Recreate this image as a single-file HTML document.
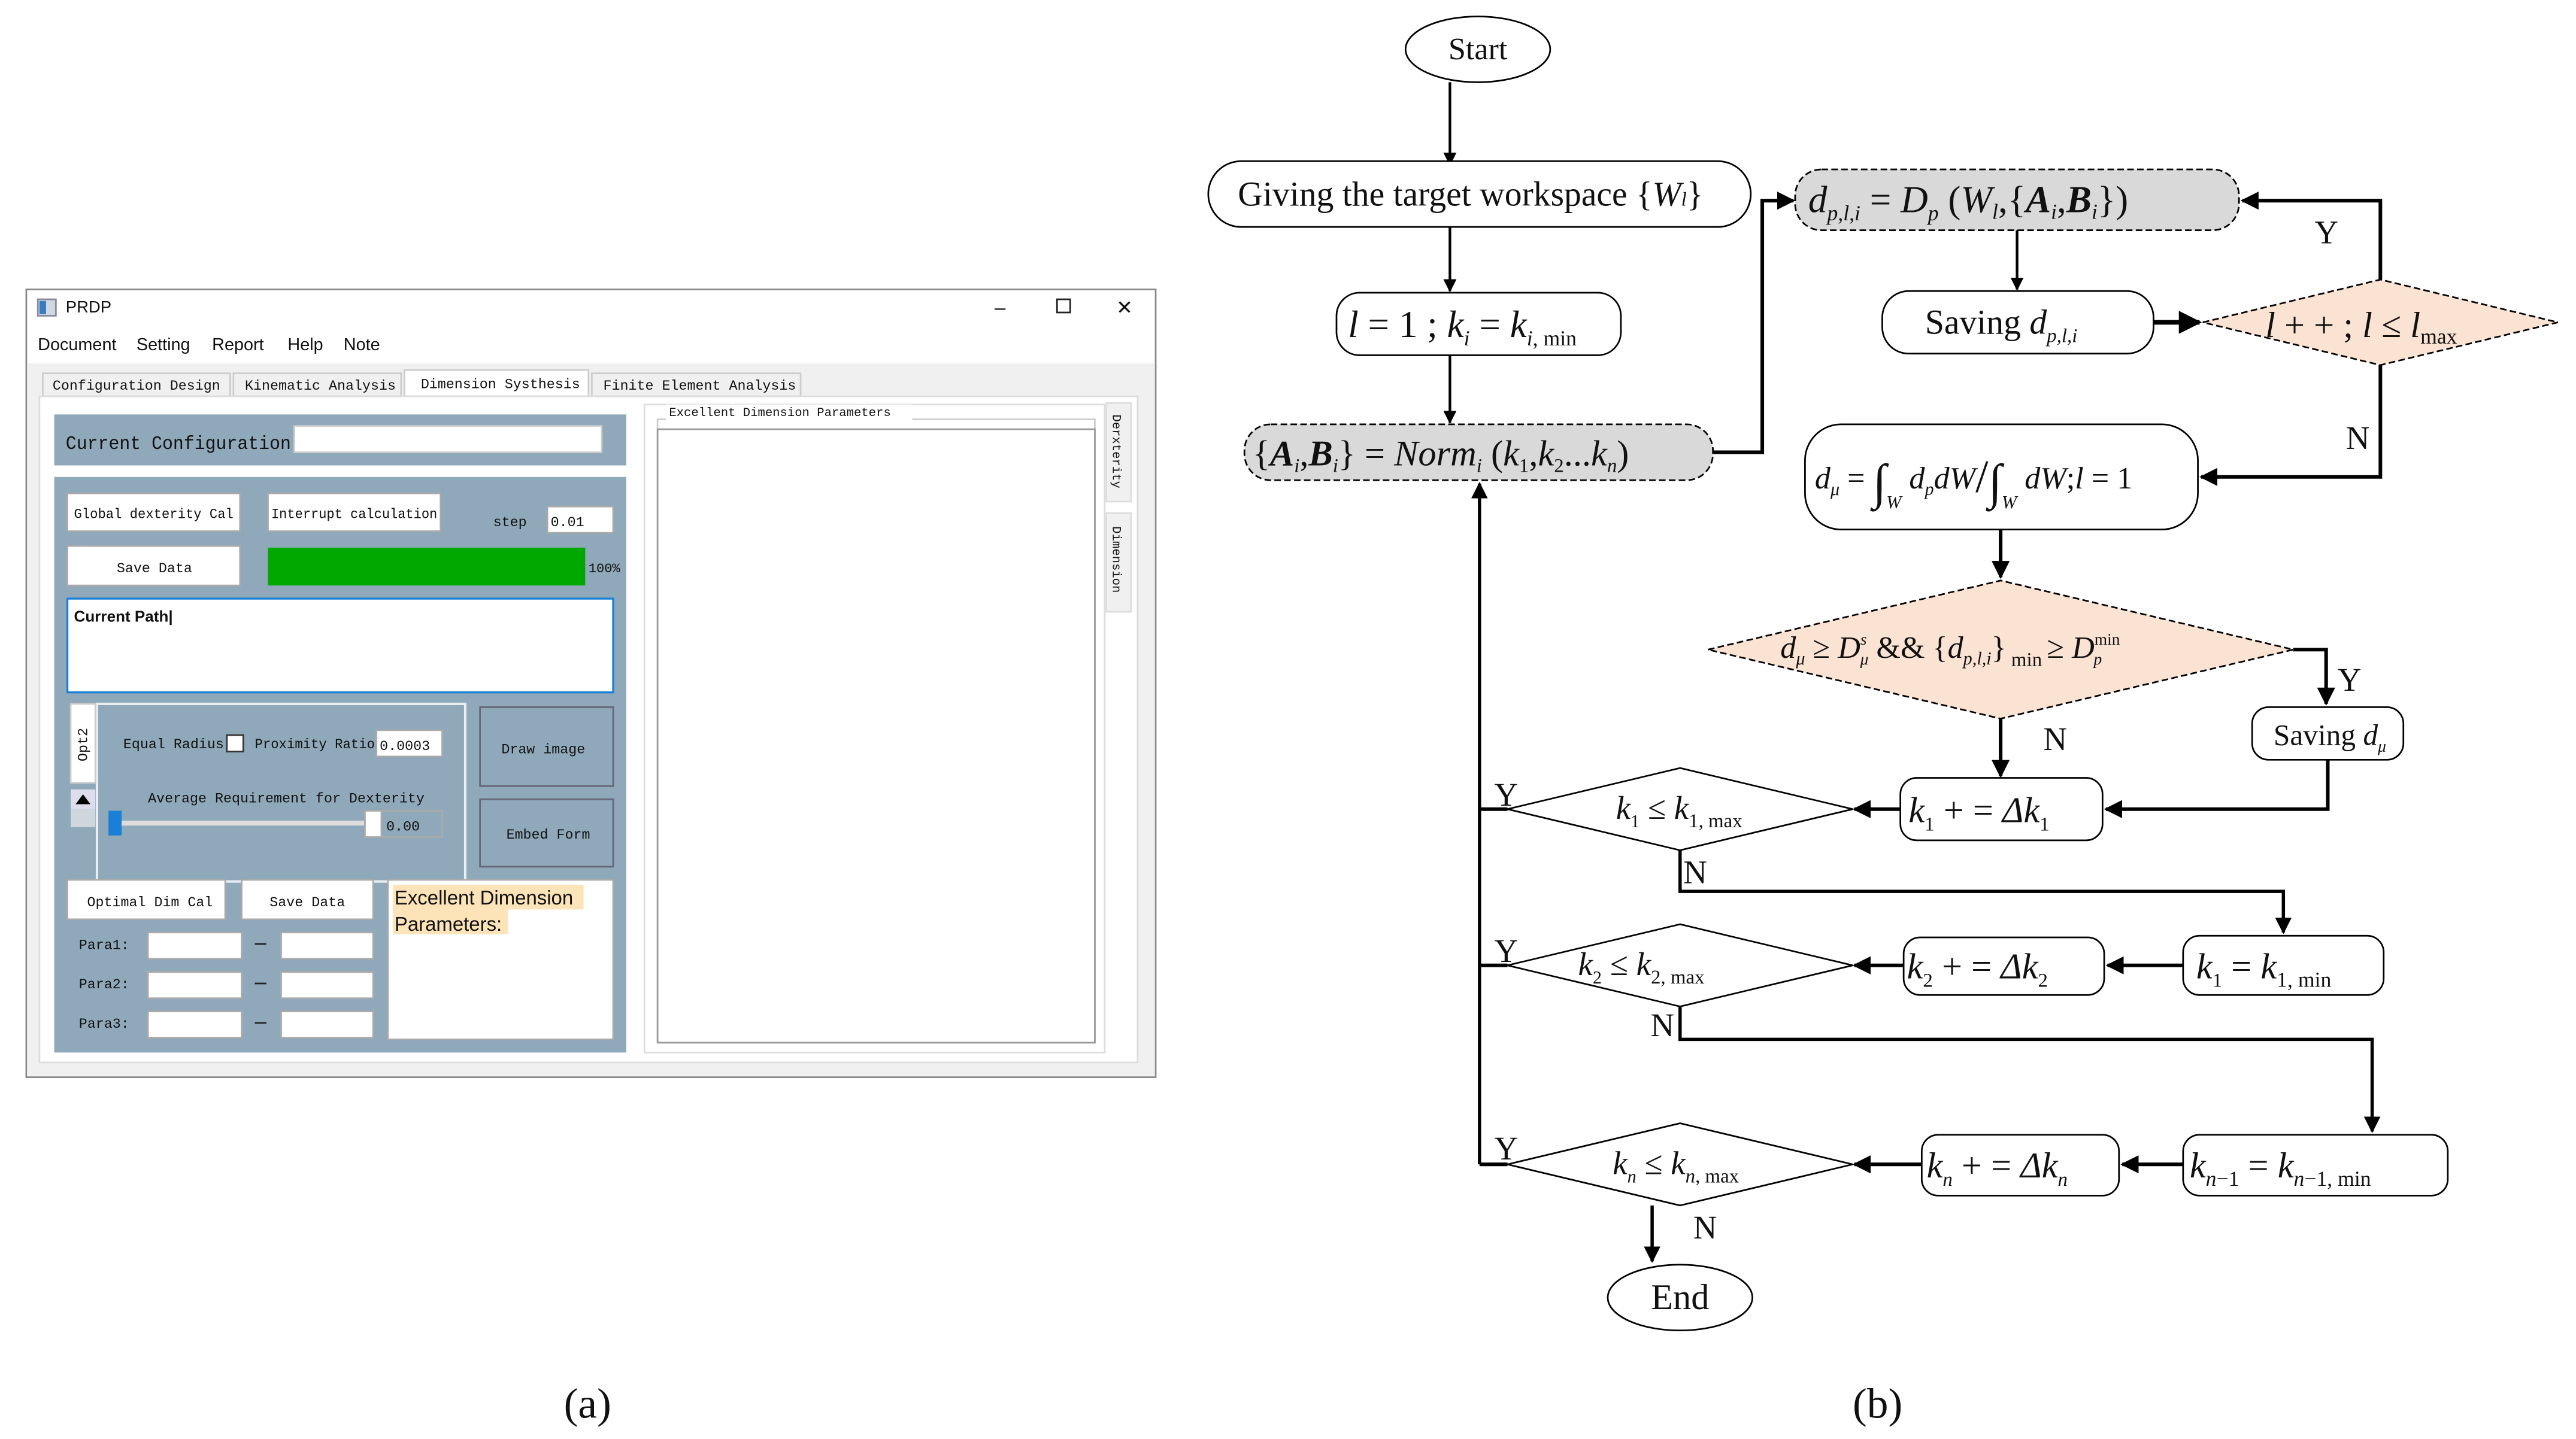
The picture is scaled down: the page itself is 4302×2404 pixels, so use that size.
<!DOCTYPE html>
<html><head><meta charset="utf-8"><style>
html,body{margin:0;padding:0;background:#fff;}
svg{display:block;}
.m{font-family:"Liberation Mono",monospace;font-size:8.5px;fill:#111;}
.s{font-family:"Liberation Sans",sans-serif;fill:#111;}
.t{font-family:"Liberation Serif",serif;fill:#111;}
.i{font-family:"Liberation Serif",serif;font-style:italic;fill:#111;}
</style></head><body>
<svg width="4302" height="2404" viewBox="0 0 1567 875" preserveAspectRatio="none" xmlns="http://www.w3.org/2000/svg">
<defs>
<marker id="a" viewBox="0 0 10 10" refX="9" refY="5" markerWidth="5" markerHeight="5" orient="auto"><path d="M0,0 L10,5 L0,10 z" fill="#000"/></marker>
</defs>
<rect width="1567" height="875" fill="#fff"/>
<!-- ===== Panel (a) ===== -->
<rect x="16" y="176" width="687" height="479" fill="#fff" stroke="#888" stroke-width="1"/>
<rect x="23" y="182" width="11" height="10" fill="#cfd8e0" stroke="#889"/><rect x="24" y="183" width="4" height="8" fill="#3a7bbf"/>
<text x="40" y="190" class="s" font-size="10">PRDP</text>
<text x="605" y="191" class="s" font-size="12">–</text>
<rect x="643" y="182" width="8" height="8" fill="none" stroke="#222"/>
<text x="679" y="191" class="s" font-size="12">✕</text>
<text x="23" y="213" class="s" font-size="10.5">Document</text>
<text x="83" y="213" class="s" font-size="10.5">Setting</text>
<text x="129" y="213" class="s" font-size="10.5">Report</text>
<text x="175" y="213" class="s" font-size="10.5">Help</text>
<text x="209" y="213" class="s" font-size="10.5">Note</text>
<rect x="17" y="221" width="685" height="433" fill="#f0f0f0"/>
<rect x="26" y="227" width="114" height="14" fill="#f0f0f0" stroke="#ccc"/>
<rect x="142" y="227" width="102" height="14" fill="#f0f0f0" stroke="#ccc"/>
<rect x="246" y="225" width="112" height="16" fill="#fff" stroke="#ccc"/>
<rect x="360" y="227" width="127" height="14" fill="#f0f0f0" stroke="#ccc"/>
<text x="32" y="237" class="m">Configuration Design</text>
<text x="149" y="237" class="m">Kinematic Analysis</text>
<text x="256" y="236" class="m">Dimension Systhesis</text>
<text x="367" y="237" class="m">Finite Element Analysis</text>
<rect x="24" y="241" width="668" height="405" fill="#fff" stroke="#ddd"/>
<rect x="33" y="252" width="348" height="31" fill="#8fa8ba"/>
<text x="40" y="273" class="m" style="font-size:11.5px" textLength="137" lengthAdjust="spacingAndGlyphs">Current Configuration</text>
<rect x="179" y="259" width="187" height="16" fill="#fff" stroke="#ccc"/>
<rect x="33" y="290" width="348" height="350" fill="#8fa8ba"/>
<rect x="41" y="300" width="105" height="23" fill="#fff" stroke="#aaa"/>
<text x="45" y="315" class="m" textLength="97" lengthAdjust="spacingAndGlyphs">Global dexterity Cal</text>
<rect x="163" y="300" width="105" height="23" fill="#fff" stroke="#aaa"/>
<text x="165" y="315" class="m" textLength="101" lengthAdjust="spacingAndGlyphs">Interrupt calculation</text>
<text x="300" y="320" class="m">step</text>
<rect x="333" y="308" width="40" height="16" fill="#fff" stroke="#aaa"/>
<text x="335" y="320" class="m">0.01</text>
<rect x="41" y="332" width="105" height="24" fill="#fff" stroke="#aaa"/>
<text x="71" y="348" class="m">Save Data</text>
<rect x="163" y="333" width="193" height="23" fill="#00a800"/>
<text x="358" y="348" class="m" style="font-size:8px">100%</text>
<rect x="41" y="364" width="332" height="57" fill="#fff" stroke="#1a7fd6" stroke-width="1.2"/>
<text x="45" y="378" class="s" font-size="9.5" font-weight="bold">Current Path|</text>
<rect x="59" y="428" width="224" height="108" fill="#8fa8ba" stroke="#e8eef2" stroke-width="1.5"/>
<rect x="43" y="428" width="15" height="48" fill="#fff" stroke="#ccc"/>
<text transform="translate(53,463) rotate(-90)" class="m">Opt2</text>
<rect x="43" y="480" width="15" height="12" fill="#dde"/><path d="M46,489 L50.5,483 L55,489z" fill="#000"/>
<rect x="43" y="492" width="15" height="11" fill="#cfd6dc"/>
<text x="75" y="455" class="m">Equal Radius</text>
<rect x="138" y="447" width="10" height="10" fill="#fff" stroke="#333"/>
<text x="155" y="455" class="m" textLength="73" lengthAdjust="spacingAndGlyphs">Proximity Ratio</text>
<rect x="229" y="444" width="40" height="16" fill="#fff" stroke="#aaa"/>
<text x="231" y="456" class="m">0.0003</text>
<text x="90" y="488" class="m">Average Requirement for Dexterity</text>
<rect x="70" y="499" width="152" height="3" fill="#ddd"/>
<rect x="66" y="493" width="8" height="15" fill="#1a7fd6"/>
<rect x="222" y="493" width="47" height="16" fill="#8fa8ba" stroke="#aaa"/>
<rect x="222" y="493" width="10" height="16" fill="#fff" stroke="#aaa"/>
<text x="235" y="505" class="m">0.00</text>
<rect x="292" y="430" width="81" height="48" fill="#8fa8ba" stroke="#667"/>
<text x="305" y="458" class="m">Draw  image</text>
<rect x="292" y="486" width="81" height="41" fill="#8fa8ba" stroke="#667"/>
<text x="308" y="510" class="m">Embed Form</text>
<rect x="41" y="535" width="96" height="24" fill="#fff" stroke="#aaa"/>
<text x="53" y="551" class="m">Optimal Dim Cal</text>
<rect x="147" y="535" width="80" height="24" fill="#fff" stroke="#aaa"/>
<text x="164" y="551" class="m">Save Data</text>
<rect x="236" y="535" width="137" height="97" fill="#fff" stroke="#aaa"/>
<rect x="239" y="538" width="116" height="15" fill="#fde3b8"/><rect x="239" y="553" width="70" height="15" fill="#fde3b8"/>
<text x="240" y="550" class="s" font-size="12">Excellent Dimension</text>
<text x="240" y="566" class="s" font-size="12">Parameters:</text>
<g class="m">
<text x="48" y="577">Para1:</text><text x="48" y="601">Para2:</text><text x="48" y="625">Para3:</text>
</g>
<g fill="#fff" stroke="#aaa">
<rect x="90" y="567" width="57" height="16"/><rect x="171" y="567" width="56" height="16"/>
<rect x="90" y="591" width="57" height="16"/><rect x="171" y="591" width="56" height="16"/>
<rect x="90" y="615" width="57" height="16"/><rect x="171" y="615" width="56" height="16"/>
</g>
<g stroke="#222"><line x1="155" y1="574" x2="162" y2="574"/><line x1="155" y1="598" x2="162" y2="598"/><line x1="155" y1="622" x2="162" y2="622"/></g>
<rect x="392" y="246" width="280" height="394" fill="#fff" stroke="#ddd"/>
<rect x="400" y="255" width="266" height="379" fill="none" stroke="#ccc"/>
<rect x="405" y="246" width="150" height="10" fill="#fff"/>
<text x="407" y="253" class="m" style="font-size:7.5px">Excellent Dimension Parameters</text>
<rect x="400" y="261" width="266" height="373" fill="#fff" stroke="#999"/>
<rect x="673" y="245" width="15" height="60" fill="#f0f0f0" stroke="#ddd"/>
<text transform="translate(677,252) rotate(90)" class="m" style="font-size:7.5px">Derxterity</text>
<rect x="673" y="312" width="15" height="60" fill="#f0f0f0" stroke="#ddd"/>
<text transform="translate(677,320) rotate(90)" class="m" style="font-size:7.5px">Dimension</text>
<text x="343" y="862" class="t" font-size="26">(a)</text>

<!-- ===== Panel (b) flowchart ===== -->
<g stroke="#000" stroke-width="1.6" fill="none">
<path d="M882,50 V100" marker-end="url(#a)"/>
<path d="M882,138 V177" marker-end="url(#a)"/>
<path d="M882,216 V257" marker-end="url(#a)"/>
<path d="M1042,275 H1072 V122 H1091" stroke-width="2.2" marker-end="url(#a)"/>
<path d="M1227,140 V176" marker-end="url(#a)"/>
<path d="M1310,196 H1338" stroke-width="2.8" marker-end="url(#a)"/>
<path d="M1448,170 V122 H1364" stroke-width="2.2" marker-end="url(#a)"/>
<path d="M1448,222 V290 H1339" stroke-width="2.2" marker-end="url(#a)"/>
<path d="M1217,322 V351" stroke-width="2.2" marker-end="url(#a)"/>
<path d="M1395,395 H1415 V428" stroke-width="2.2" marker-end="url(#a)"/>
<path d="M1416,462 V492 H1281" stroke-width="2.2" marker-end="url(#a)"/>
<path d="M1217,437 V472" stroke-width="2.2" marker-end="url(#a)"/>
<path d="M1156,492 H1128" stroke-width="2.2" marker-end="url(#a)"/>
<path d="M917,492 H900 M917,587 H900 M917,708 H900" stroke-width="2.2"/>
<path d="M900,708 V294" stroke-width="2" marker-end="url(#a)"/>
<path d="M1022,517 V542 H1389 V567" stroke-width="2" marker-end="url(#a)"/>
<path d="M1328,587 H1282" stroke-width="2.2" marker-end="url(#a)"/>
<path d="M1158,587 H1128" stroke-width="2.2" marker-end="url(#a)"/>
<path d="M1022,612 V632 H1443 V688" stroke-width="2" marker-end="url(#a)"/>
<path d="M1328,708 H1291" stroke-width="2.2" marker-end="url(#a)"/>
<path d="M1169,708 H1128" stroke-width="2.2" marker-end="url(#a)"/>
<path d="M1005,733 V767" stroke-width="2" marker-end="url(#a)"/>
</g>
<g stroke="#000" stroke-width="1" fill="#fff">
<ellipse cx="899" cy="30" rx="44" ry="20"/>
<rect x="735" y="98" width="330" height="40" rx="20"/>
<rect x="813" y="178" width="173" height="38" rx="14"/>
<rect x="757" y="258" width="285" height="34" rx="16" fill="#d9d9d9" stroke-dasharray="4,2"/>
<rect x="1092" y="103" width="270" height="37" rx="16" fill="#d9d9d9" stroke-dasharray="4,2"/>
<rect x="1145" y="177" width="165" height="38" rx="16"/>
<path d="M1340,196 L1448,170 L1556,196 L1448,222 Z" fill="#fbe3d3" stroke-dasharray="4,2"/>
<rect x="1098" y="258" width="239" height="64" rx="22"/>
<path d="M1039,395 L1217,353 L1395,395 L1217,437 Z" fill="#fbe3d3" stroke-dasharray="4,2"/>
<rect x="1370" y="430" width="92" height="32" rx="10"/>
<rect x="1156" y="473" width="123" height="38" rx="10"/>
<path d="M917,492 L1022,467 L1127,492 L1022,517 Z"/>
<rect x="1328" y="569" width="122" height="36" rx="10"/>
<rect x="1158" y="570" width="122" height="35" rx="10"/>
<path d="M917,587 L1022,562 L1127,587 L1022,612 Z"/>
<rect x="1328" y="690" width="161" height="37" rx="10"/>
<rect x="1169" y="690" width="120" height="37" rx="10"/>
<path d="M917,708 L1022,683 L1127,708 L1022,733 Z"/>
<ellipse cx="1022" cy="789" rx="44" ry="20"/>
</g>
<g class="t">
<text x="899" y="36" font-size="19" text-anchor="middle">Start</text>
<text x="1022" y="796" font-size="22" text-anchor="middle">End</text>
<text x="753" y="125" font-size="21">Giving the target workspace {<tspan class="i">W</tspan><tspan class="i" font-size="12">l</tspan>}</text>
<text x="820" y="205" font-size="23"><tspan class="i">l</tspan> = 1 ; <tspan class="i">k</tspan><tspan class="i" font-size="13" dy="5">i</tspan><tspan dy="-5"> = </tspan><tspan class="i">k</tspan><tspan font-size="13" dy="5"><tspan class="i">i</tspan>, min</tspan></text>
<text x="762" y="283" font-size="22">{<tspan font-weight="bold" class="i">A</tspan><tspan class="i" font-size="12" dy="4">i</tspan><tspan dy="-4">,</tspan><tspan font-weight="bold" class="i">B</tspan><tspan class="i" font-size="12" dy="4">i</tspan><tspan dy="-4">} = </tspan><tspan class="i">Norm</tspan><tspan class="i" font-size="12" dy="4">i</tspan><tspan dy="-4"> (</tspan><tspan class="i">k</tspan><tspan font-size="12" dy="4">1</tspan><tspan dy="-4">,</tspan><tspan class="i">k</tspan><tspan font-size="12" dy="4">2</tspan><tspan dy="-4">...</tspan><tspan class="i">k</tspan><tspan class="i" font-size="12" dy="4">n</tspan><tspan dy="-4">)</tspan></text>
<text x="1100" y="129" font-size="23"><tspan class="i">d</tspan><tspan class="i" font-size="13" dy="5">p,l,i</tspan><tspan dy="-5"> = </tspan><tspan class="i">D</tspan><tspan class="i" font-size="13" dy="5">p</tspan><tspan dy="-5"> (</tspan><tspan class="i">W</tspan><tspan class="i" font-size="13" dy="4">l</tspan><tspan dy="-4">,{</tspan><tspan class="i" font-weight="bold">A</tspan><tspan class="i" font-size="13" dy="4">i</tspan><tspan dy="-4">,</tspan><tspan class="i" font-weight="bold">B</tspan><tspan class="i" font-size="13" dy="4">i</tspan><tspan dy="-4">})</tspan></text>
<text x="1171" y="203" font-size="21">Saving <tspan class="i">d</tspan><tspan class="i" font-size="12" dy="5">p,l,i</tspan></text>
<text x="1378" y="205" font-size="22"><tspan class="i">l</tspan> + + ; <tspan class="i">l</tspan> ≤ <tspan class="i">l</tspan><tspan font-size="13" dy="4">max</tspan></text>
<text x="1104" y="297" font-size="19"><tspan class="i">d</tspan><tspan class="i" font-size="11" dy="4">μ</tspan><tspan dy="-4"> = </tspan><tspan font-size="30" dy="6">∫</tspan><tspan class="i" font-size="11" dy="6">W</tspan><tspan class="i" dy="-12"> d</tspan><tspan class="i" font-size="11" dy="4">p</tspan><tspan class="i" dy="-4">dW</tspan><tspan font-size="28" dy="2">/</tspan><tspan font-size="30" dy="4">∫</tspan><tspan class="i" font-size="11" dy="6">W</tspan><tspan class="i" dy="-12"> dW</tspan><tspan>;</tspan><tspan class="i">l</tspan> = 1</text>
<text x="1083" y="400" font-size="19"><tspan class="i">d</tspan><tspan class="i" font-size="11" dy="4">μ</tspan><tspan dy="-4"> ≥ </tspan><tspan class="i">D</tspan><tspan class="i" font-size="10" dy="-8">s</tspan><tspan class="i" font-size="10" dx="-4" dy="12">μ</tspan><tspan dy="-4">  &amp;&amp;  {</tspan><tspan class="i">d</tspan><tspan class="i" font-size="11" dy="4">p,l,i</tspan><tspan dy="-4">}</tspan><tspan font-size="12" dy="5"> min </tspan><tspan dy="-5">≥ </tspan><tspan class="i">D</tspan><tspan font-size="10" dy="-8">min</tspan><tspan class="i" font-size="10" dx="-16" dy="12">p</tspan></text>
<text x="1383" y="453" font-size="18">Saving <tspan class="i">d</tspan><tspan class="i" font-size="10" dy="4">μ</tspan></text>
<text x="1161" y="500" font-size="22"><tspan class="i">k</tspan><tspan font-size="12" dy="5">1</tspan><tspan dy="-5"> + = </tspan><tspan class="i">Δk</tspan><tspan font-size="12" dy="5">1</tspan></text>
<text x="983" y="498" font-size="20"><tspan class="i">k</tspan><tspan font-size="11" dy="5">1</tspan><tspan dy="-5"> ≤ </tspan><tspan class="i">k</tspan><tspan font-size="12" dy="5">1, max</tspan></text>
<text x="1336" y="595" font-size="22"><tspan class="i">k</tspan><tspan font-size="12" dy="5">1</tspan><tspan dy="-5"> = </tspan><tspan class="i">k</tspan><tspan font-size="13" dy="5">1, min</tspan></text>
<text x="1160" y="595" font-size="22"><tspan class="i">k</tspan><tspan font-size="12" dy="5">2</tspan><tspan dy="-5"> + = </tspan><tspan class="i">Δk</tspan><tspan font-size="12" dy="5">2</tspan></text>
<text x="960" y="593" font-size="20"><tspan class="i">k</tspan><tspan font-size="11" dy="5">2</tspan><tspan dy="-5"> ≤ </tspan><tspan class="i">k</tspan><tspan font-size="12" dy="5">2, max</tspan></text>
<text x="1332" y="716" font-size="22"><tspan class="i">k</tspan><tspan class="i" font-size="13" dy="5">n</tspan><tspan font-size="13">−1</tspan><tspan dy="-5"> = </tspan><tspan class="i">k</tspan><tspan font-size="13" dy="5"><tspan class="i">n</tspan>−1, min</tspan></text>
<text x="1172" y="716" font-size="22"><tspan class="i">k</tspan><tspan class="i" font-size="12" dy="5">n</tspan><tspan dy="-5"> + = </tspan><tspan class="i">Δk</tspan><tspan class="i" font-size="12" dy="5">n</tspan></text>
<text x="981" y="714" font-size="20"><tspan class="i">k</tspan><tspan class="i" font-size="11" dy="5">n</tspan><tspan dy="-5"> ≤ </tspan><tspan class="i">k</tspan><tspan font-size="12" dy="5"><tspan class="i">n</tspan>, max</tspan></text>
<g font-size="20">
<text x="1408" y="148">Y</text>
<text x="1427" y="273">N</text>
<text x="1422" y="420">Y</text>
<text x="1243" y="456">N</text>
<text x="909" y="490">Y</text>
<text x="1024" y="537">N</text>
<text x="909" y="585">Y</text>
<text x="1004" y="630">N</text>
<text x="909" y="705">Y</text>
<text x="1030" y="753">N</text>
</g>
<text x="1127" y="862" font-size="26">(b)</text>
</g>
</svg>
</body></html>
